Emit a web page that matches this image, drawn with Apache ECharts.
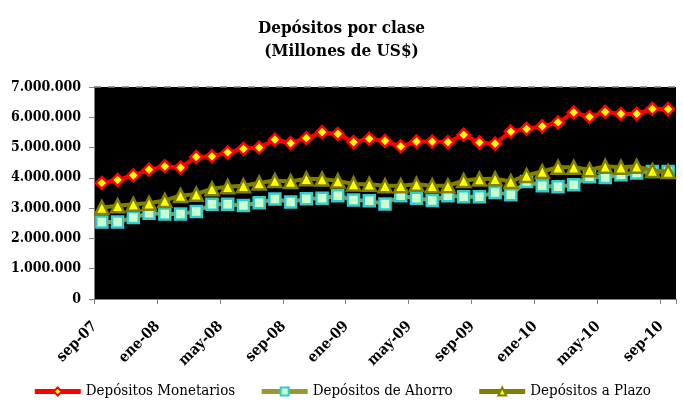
<!DOCTYPE html>
<html><head><meta charset="utf-8">
<script src="https://cdn.jsdelivr.net/npm/echarts@6/dist/echarts.min.js"></script>
<style>html,body{margin:0;padding:0;background:#fff}#c{width:683px;height:416px}</style>
</head><body><div id="c"></div>
<script>
const months = ['sep-07','oct-07','nov-07','dic-07','ene-08','feb-08','mar-08','abr-08','may-08','jun-08','jul-08','ago-08',
 'sep-08','oct-08','nov-08','dic-08','ene-09','feb-09','mar-09','abr-09','may-09','jun-09','jul-09','ago-09',
 'sep-09','oct-09','nov-09','dic-09','ene-10','feb-10','mar-10','abr-10','may-10','jun-10','jul-10','ago-10','sep-10'];
const monetarios = [3830000,3930000,4080000,4270000,4380000,4340000,4690000,4710000,4840000,4960000,5000000,5260000,
 5150000,5310000,5510000,5450000,5180000,5290000,5220000,5040000,5200000,5200000,5180000,5420000,
 5170000,5130000,5530000,5620000,5700000,5830000,6160000,6010000,6180000,6110000,6110000,6280000,6270000];
const ahorro = [2540000,2540000,2690000,2830000,2810000,2810000,2890000,3130000,3130000,3090000,3180000,3300000,
 3200000,3310000,3330000,3410000,3270000,3240000,3140000,3410000,3330000,3250000,3410000,3380000,
 3380000,3520000,3440000,3880000,3740000,3710000,3770000,4040000,4010000,4100000,4160000,4210000,4210000];
const plazo = [3020000,3080000,3130000,3160000,3250000,3420000,3460000,3640000,3710000,3740000,3830000,3910000,
 3880000,3970000,3960000,3900000,3800000,3790000,3740000,3740000,3790000,3740000,3740000,3910000,
 3960000,3970000,3880000,4080000,4210000,4350000,4350000,4270000,4380000,4350000,4380000,4240000,4210000];
const yTicks = [0,1000000,2000000,3000000,4000000,5000000,6000000,7000000];

const FONT = '"DejaVu Serif Condensed", "DejaVu Serif", serif';
const fmt = v => String(v).replace(/\B(?=(\d{3})+(?!\d))/g, '.');
const chart = echarts.init(document.getElementById('c'));
chart.setOption({
  animation: false,
  backgroundColor: '#fff',
  title: {
    text: 'Depósitos por clase\n(Millones de US$)',
    left: 'center', top: 12,
    textStyle: {fontFamily: FONT, fontWeight: 'bold', fontSize: 17, color: '#000', lineHeight: 23}
  },
  grid: {left: 94, right: 7, top: 87, bottom: 117, backgroundColor: '#000', show: true, borderWidth: 0},
  legend: {
    bottom: 12, left: 'center', itemGap: 24, itemWidth: 46, itemHeight: 10,
    lineStyle: {width: 5},
    textStyle: {fontFamily: FONT, fontSize: 15, color: '#000'},
    data: ['Depósitos Monetarios','Depósitos de Ahorro','Depósitos a Plazo']
  },
  xAxis: {
    type: 'category', data: months, boundaryGap: true,
    axisLine: {lineStyle: {color: '#808080'}},
    axisTick: {show: true, interval: 3, length: 5, lineStyle: {color: '#808080'}},
    axisLabel: {interval: 3, rotate: 45, fontFamily: FONT, fontWeight: 'bold', fontSize: 15, color: '#000', margin: 18, padding: [0, 10, 0, 0]}
  },
  yAxis: {
    type: 'value', min: yTicks[0], max: yTicks[yTicks.length-1], interval: 1000000,
    axisLine: {show: true, lineStyle: {color: '#808080'}},
    axisTick: {show: true, length: 5, lineStyle: {color: '#808080'}},
    splitLine: {show: true, lineStyle: {type: [7,7], width: 1.5,
      color: ['rgba(0,0,0,0)','rgba(0,0,0,0)','rgba(0,0,0,0)','rgba(0,0,0,0)','rgba(0,0,0,0)','rgba(0,0,0,0)','rgba(0,0,0,0)','#808080']}},
    axisLabel: {fontFamily: FONT, fontWeight: 'bold', fontSize: 14, color: '#000', margin: 13, formatter: fmt}
  },
  series: [
    {name: 'Depósitos Monetarios', type: 'line', data: monetarios, symbol: 'diamond', symbolSize: 12, showAllSymbol: true,
     lineStyle: {color: '#FF0000', width: 4}, itemStyle: {color: '#FFFF00', borderColor: '#FF0000', borderWidth: 2.5}, z: 2},
    {name: 'Depósitos de Ahorro', type: 'line', data: ahorro, symbol: 'rect', symbolSize: 11, showAllSymbol: true,
     lineStyle: {color: '#999933', width: 4}, itemStyle: {color: '#CCFFCC', borderColor: '#33CCCC', borderWidth: 2.5}, z: 3},
    {name: 'Depósitos a Plazo', type: 'line', data: plazo, symbol: 'triangle', symbolSize: 13, showAllSymbol: true,
     lineStyle: {color: '#808000', width: 4}, itemStyle: {color: '#FFFF00', borderColor: '#808000', borderWidth: 2.5}, z: 4}
  ]
});
</script></body></html>
